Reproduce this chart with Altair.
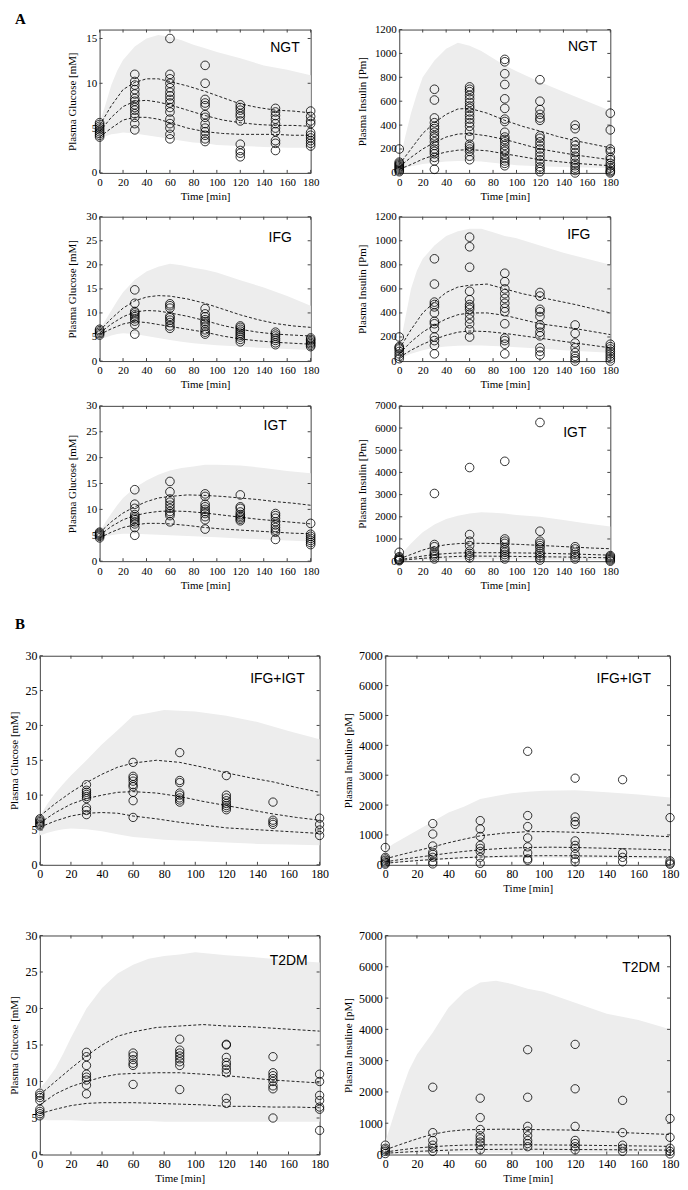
import altair as alt
import pandas as pd

# ---------------- time grids ----------------
BAND_T = [0, 5, 10, 15, 20, 30, 40, 50, 60, 70, 80, 90, 100, 120, 140, 160, 180]
LINE_T = [0, 10, 20, 30, 40, 50, 60, 75, 90, 105, 120, 135, 150, 165, 180]
OBS_T = [0, 30, 60, 90, 120, 150, 180]
X_TICKS = [0, 20, 40, 60, 80, 100, 120, 140, 160, 180]

# ---------------- A: NGT glucose ----------------
NGT_G_LO = [4.0, 4.1, 4.3, 4.4, 4.5, 4.4, 4.2, 4.0, 3.8, 3.6, 3.4, 3.3, 3.1, 3.0, 2.9, 2.8, 2.8]
NGT_G_HI = [5.6, 7.6, 9.8, 11.4, 12.6, 14.1, 15.0, 15.4, 15.2, 14.8, 14.3, 13.9, 13.5, 12.8, 12.0, 11.5, 10.9]
NGT_G_L1 = [5.3, 7.5, 9.3, 10.1, 10.5, 10.5, 10.2, 9.7, 9.1, 8.4, 7.7, 7.3, 7.0, 6.9, 6.7]
NGT_G_L2 = [4.6, 6.2, 7.4, 8.0, 8.1, 7.9, 7.6, 7.0, 6.4, 5.9, 5.6, 5.4, 5.3, 5.3, 5.2]
NGT_G_L3 = [4.0, 5.0, 5.9, 6.2, 6.2, 6.0, 5.6, 5.0, 4.6, 4.4, 4.3, 4.3, 4.3, 4.2, 4.2]
NGT_G_OBS = [
    [4.0, 4.2, 4.4, 4.6, 4.8, 5.0, 5.2, 5.4, 5.6],
    [4.8, 5.5, 6.2, 6.6, 7.0, 7.3, 7.6, 8.0, 8.3, 8.8, 9.3, 9.8, 10.2, 11.0],
    [3.8, 4.3, 5.0, 5.5, 6.0, 6.8, 7.3, 7.8, 8.2, 8.6, 9.0, 9.5, 10.0, 10.5, 11.0, 15.0],
    [3.5, 3.8, 4.2, 4.6, 5.0, 5.5, 6.2, 6.5, 7.5, 7.8, 8.2, 10.0, 12.0],
    [1.8, 2.2, 2.5, 3.2, 5.8, 6.3, 6.6, 7.0, 7.3, 7.6],
    [2.5, 3.3, 3.6, 4.6, 5.0, 5.5, 6.0, 6.4, 6.8, 7.2],
    [3.0, 3.3, 3.6, 3.9, 4.2, 4.5, 5.5, 5.8, 6.3, 6.9],
]

# ---------------- A: NGT insulin ----------------
NGT_I_LO = [30, 40, 55, 65, 75, 85, 95, 100, 100, 95, 85, 75, 65, 55, 50, 45, 40]
NGT_I_HI = [80, 300, 500, 660, 800, 940, 1040, 1090, 1065, 1020, 960, 900, 850, 760, 680, 600, 520]
NGT_I_L1 = [70, 200, 330, 420, 490, 535, 540, 500, 440, 390, 350, 305, 270, 240, 210]
NGT_I_L2 = [50, 130, 200, 255, 300, 325, 330, 310, 280, 240, 200, 175, 150, 130, 110]
NGT_I_L3 = [30, 70, 115, 150, 175, 190, 195, 185, 160, 135, 110, 95, 80, 70, 60]
NGT_I_OBS = [
    [10, 20, 30, 40, 50, 60, 70, 80, 90, 200],
    [30, 100, 130, 160, 180, 200, 230, 260, 290, 310, 340, 370, 390, 420, 460, 610, 700],
    [110, 140, 180, 200, 220, 240, 300, 350, 390, 420, 450, 480, 510, 540, 560, 590, 620, 650, 680, 700, 720],
    [60, 80, 100, 120, 150, 180, 200, 230, 260, 280, 300, 340, 430, 450, 540, 620, 740, 830, 930, 950],
    [10, 30, 50, 80, 110, 140, 170, 200, 230, 260, 290, 310, 440, 460, 490, 530, 600, 780],
    [0, 20, 40, 60, 80, 110, 140, 170, 200, 230, 260, 370, 400],
    [0, 10, 20, 40, 60, 80, 110, 130, 180, 200, 360, 500],
]

# ---------------- A: IFG glucose ----------------
IFG_G_LO = [4.5, 4.9, 5.3, 5.6, 5.8, 5.6, 5.2, 4.8, 4.4, 4.0, 3.7, 3.5, 3.3, 3.0, 2.7, 2.5, 2.3]
IFG_G_HI = [6.5, 8.5, 10.5, 12.5, 14.3, 16.9, 18.6, 19.6, 20.2, 19.9, 19.4, 19.0, 18.4, 16.8, 15.3, 13.5, 11.5]
IFG_G_L1 = [6.3, 8.8, 11.0, 12.5, 13.3, 13.6, 13.5, 12.9, 12.0, 10.8, 9.6, 8.6, 7.8, 7.3, 7.0]
IFG_G_L2 = [5.8, 7.7, 9.2, 10.2, 10.5, 10.4, 10.0, 9.3, 8.4, 7.4, 6.6, 6.0, 5.6, 5.4, 5.2]
IFG_G_L3 = [5.5, 6.7, 7.7, 8.2, 8.0, 7.6, 7.2, 6.6, 6.0, 5.2, 4.6, 4.2, 3.9, 3.7, 3.5]
IFG_G_OBS = [
    [5.4, 5.7, 6.0, 6.3, 6.6],
    [5.6, 7.6, 8.3, 8.8, 9.2, 9.6, 10.0, 10.3, 12.0, 14.8],
    [6.8, 7.3, 8.0, 8.5, 9.0, 9.3, 11.0, 11.5, 11.9],
    [5.6, 6.0, 6.5, 7.2, 7.8, 8.2, 8.6, 9.2, 9.8, 10.9],
    [4.0, 4.5, 5.0, 5.4, 5.8, 6.2, 6.6, 7.0, 7.3],
    [3.4, 3.8, 4.3, 4.7, 5.2, 5.6, 6.0],
    [3.0, 3.3, 3.6, 3.9, 4.2, 4.5, 4.8],
]

# ---------------- A: IFG insulin ----------------
IFG_I_LO = [20, 40, 60, 75, 90, 110, 120, 128, 130, 130, 125, 120, 115, 105, 90, 80, 70]
IFG_I_HI = [100, 350, 600, 750, 850, 960, 1040, 1080, 1100, 1100, 1070, 1040, 1020, 960, 900, 850, 800]
IFG_I_L1 = [100, 260, 400, 490, 570, 615, 630, 640, 600, 560, 530, 500, 470, 435, 400]
IFG_I_L2 = [60, 160, 240, 300, 350, 385, 400, 400, 380, 345, 310, 290, 270, 245, 220]
IFG_I_L3 = [30, 90, 140, 180, 215, 240, 250, 245, 230, 210, 190, 170, 150, 130, 110]
IFG_I_OBS = [
    [20, 40, 60, 80, 100, 110, 120, 200],
    [60, 130, 170, 200, 270, 310, 330, 400, 450, 470, 490, 640, 850],
    [200, 260, 310, 350, 390, 430, 450, 470, 510, 580, 780, 950, 1030],
    [60, 140, 170, 190, 310, 410, 440, 480, 520, 560, 600, 660, 730],
    [50, 80, 110, 210, 240, 280, 300, 370, 410, 430, 540, 570],
    [0, 20, 40, 70, 110, 150, 230, 300],
    [0, 20, 40, 60, 80, 100, 120, 140],
]

# ---------------- A: IGT glucose ----------------
IGT_G_LO = [4.5, 4.8, 5.0, 5.2, 5.3, 5.3, 5.2, 5.1, 5.0, 4.9, 4.8, 4.7, 4.6, 4.4, 4.2, 4.0, 3.8]
IGT_G_HI = [5.6, 7.5, 9.2, 10.8, 12.2, 14.2, 15.6, 16.7, 17.5, 18.0, 18.3, 18.6, 18.6, 18.5, 18.0, 17.4, 17.0]
IGT_G_L1 = [5.5, 7.6, 9.3, 10.5, 11.5, 12.2, 12.5, 12.8, 12.7, 12.5, 12.2, 11.9, 11.5, 11.2, 10.8]
IGT_G_L2 = [5.0, 6.7, 8.0, 8.8, 9.3, 9.6, 9.7, 9.6, 9.3, 8.9, 8.5, 8.1, 7.8, 7.5, 7.2]
IGT_G_L3 = [4.5, 5.6, 6.5, 7.0, 7.3, 7.3, 7.2, 6.9, 6.5, 6.2, 6.0, 5.8, 5.6, 5.4, 5.3]
IGT_G_OBS = [
    [4.5, 4.8, 5.0, 5.2, 5.4, 5.6],
    [5.0, 6.5, 7.2, 7.6, 8.0, 8.3, 8.6, 9.0, 10.2, 11.0, 13.8],
    [7.6, 8.8, 9.2, 9.6, 10.2, 10.8, 11.4, 12.0, 13.4, 15.4],
    [6.2, 8.0, 8.6, 9.2, 9.6, 10.0, 10.5, 11.0, 12.5, 13.0],
    [7.8, 8.1, 8.4, 8.7, 9.0, 9.5, 10.2, 10.5, 12.8],
    [4.2, 5.6, 6.0, 6.5, 7.0, 7.6, 8.3, 8.8, 9.2],
    [3.2, 3.6, 4.0, 4.4, 4.8, 5.2, 7.3],
]

# ---------------- A: IGT insulin ----------------
IGT_I_LO = [10, 20, 30, 40, 50, 60, 70, 80, 80, 80, 80, 75, 70, 65, 60, 55, 50]
IGT_I_HI = [200, 500, 800, 1050, 1300, 1650, 1900, 2050, 2150, 2200, 2180, 2150, 2080, 2000, 1850, 1700, 1560]
IGT_I_L1 = [100, 300, 500, 650, 740, 790, 810, 800, 780, 750, 710, 670, 630, 590, 560]
IGT_I_L2 = [60, 150, 230, 300, 340, 370, 380, 380, 380, 370, 360, 340, 320, 295, 270]
IGT_I_L3 = [30, 80, 130, 160, 190, 215, 230, 225, 220, 210, 200, 190, 180, 165, 150]
IGT_I_OBS = [
    [20, 50, 80, 100, 150, 200, 400],
    [100, 200, 280, 350, 450, 650, 750, 3050],
    [150, 250, 350, 450, 700, 900, 1200, 4220],
    [100, 200, 300, 400, 500, 600, 800, 900, 1000, 4500],
    [50, 150, 250, 350, 450, 600, 700, 800, 900, 1350, 6250],
    [100, 200, 300, 400, 550, 650],
    [0, 50, 100, 150, 200, 250],
]

# ---------------- B: IFG+IGT glucose ----------------
BOTH_G_LO = [4.2, 4.6, 4.9, 5.1, 5.2, 5.1, 4.8, 4.4, 4.0, 3.8, 3.6, 3.5, 3.4, 3.2, 3.0, 2.9, 2.8]
BOTH_G_HI = [7.0, 8.8, 10.3, 11.6, 12.8, 15.0, 17.3, 19.3, 21.4, 21.8, 22.2, 22.1, 22.0, 21.4, 20.5, 19.2, 18.0]
BOTH_G_L1 = [7.0, 8.8, 10.4, 11.8, 13.0, 14.0, 14.6, 15.0, 14.7, 14.0, 13.2, 12.5, 11.9, 11.1, 10.4]
BOTH_G_L2 = [6.0, 7.5, 8.7, 9.5, 10.0, 10.4, 10.5, 10.3, 9.8, 9.1, 8.5, 7.9, 7.3, 6.8, 6.4]
BOTH_G_L3 = [5.4, 6.3, 7.0, 7.4, 7.5, 7.4, 7.0, 6.6, 6.1, 5.7, 5.3, 5.1, 4.9, 4.7, 4.5]
BOTH_G_OBS = [
    [5.6, 5.8, 6.0, 6.2, 6.4, 6.6],
    [7.2, 7.8, 8.2, 9.5, 9.8, 10.1, 10.4, 10.7, 11.5],
    [6.8, 9.2, 10.4, 11.2, 11.5, 12.0, 12.4, 12.7, 14.7],
    [9.0, 9.3, 9.6, 10.0, 10.3, 11.8, 12.1, 16.1],
    [7.9, 8.2, 8.5, 8.8, 9.2, 9.6, 10.0, 12.8],
    [5.8, 6.1, 6.4, 9.0],
    [4.2, 5.0, 5.8, 6.7],
]

# ---------------- B: IFG+IGT insulin ----------------
BOTH_I_LO = [50, 60, 80, 100, 120, 150, 180, 200, 220, 230, 240, 240, 240, 230, 220, 210, 200]
BOTH_I_HI = [500, 700, 850, 1000, 1150, 1450, 1750, 1950, 2200, 2300, 2400, 2450, 2480, 2500, 2430, 2350, 2250]
BOTH_I_L1 = [200, 340, 470, 600, 740, 860, 970, 1060, 1110, 1110, 1090, 1060, 1020, 980, 940]
BOTH_I_L2 = [100, 180, 250, 320, 390, 450, 500, 550, 580, 590, 580, 560, 540, 520, 500]
BOTH_I_L3 = [50, 100, 140, 180, 210, 240, 260, 285, 300, 305, 300, 290, 280, 270, 260]
BOTH_I_OBS = [
    [20, 60, 100, 150, 200, 250, 580],
    [30, 100, 250, 350, 420, 630, 1030, 1380],
    [50, 250, 450, 550, 650, 950, 1200, 1480],
    [150, 200, 400, 600, 900, 1280, 1650, 3800],
    [100, 200, 350, 550, 650, 800, 1350, 1450, 1600, 2900],
    [100, 250, 400, 2850],
    [20, 60, 130, 1580],
]

# ---------------- B: T2DM glucose ----------------
T2DM_G_LO = [4.8, 4.7, 4.7, 4.7, 4.7, 4.6, 4.6, 4.6, 4.6, 4.6, 4.5, 4.5, 4.5, 4.5, 4.5, 4.5, 4.5]
T2DM_G_HI = [9.0, 10.3, 11.8, 13.8, 16.0, 20.0, 22.8, 24.8, 26.0, 26.8, 27.2, 27.4, 27.7, 27.3, 27.0, 26.6, 26.3]
T2DM_G_L1 = [8.2, 10.0, 11.8, 13.5, 15.0, 16.2, 16.8, 17.4, 17.6, 17.8, 17.6, 17.5, 17.3, 17.1, 16.9]
T2DM_G_L2 = [6.8, 8.3, 9.3, 10.0, 10.6, 11.0, 11.1, 11.2, 11.2, 11.0, 10.8, 10.5, 10.2, 10.0, 9.8]
T2DM_G_L3 = [5.6, 6.2, 6.7, 7.0, 7.1, 7.1, 7.1, 7.0, 6.9, 6.8, 6.6, 6.6, 6.5, 6.5, 6.4]
T2DM_G_OBS = [
    [5.3, 5.6, 5.9, 6.2, 7.4, 7.8, 8.1, 8.4],
    [8.3, 9.5, 10.2, 10.6, 11.0, 12.2, 13.4, 14.0],
    [9.6, 12.2, 12.5, 13.0, 13.5, 13.9],
    [8.9, 12.2, 12.7, 13.1, 13.5, 13.9, 14.3, 15.8],
    [7.0, 7.7, 11.2, 11.7, 12.2, 12.6, 13.3, 15.0, 15.1],
    [5.0, 9.0, 9.4, 10.0, 10.4, 10.8, 11.2, 13.4],
    [3.3, 6.2, 6.5, 7.4, 8.1, 10.0, 11.0],
]

# ---------------- B: T2DM insulin ----------------
T2DM_I_LO = [10, 20, 30, 40, 50, 60, 60, 60, 60, 60, 60, 60, 60, 60, 60, 60, 60]
T2DM_I_HI = [400, 1200, 2000, 2700, 3200, 3900, 4700, 5200, 5500, 5550, 5450, 5300, 5200, 4850, 4500, 4300, 4000]
T2DM_I_L1 = [150, 330, 500, 650, 740, 790, 800, 810, 800, 790, 780, 740, 700, 670, 640]
T2DM_I_L2 = [80, 150, 210, 250, 280, 300, 310, 310, 310, 305, 300, 290, 280, 270, 260]
T2DM_I_L3 = [40, 70, 100, 120, 140, 155, 160, 165, 170, 165, 160, 155, 150, 145, 140]
T2DM_I_OBS = [
    [30, 100, 150, 200, 300],
    [100, 200, 300, 450, 700, 2150],
    [150, 300, 400, 500, 600, 800, 1180, 1800],
    [250, 350, 450, 600, 750, 900, 1830, 3350],
    [150, 250, 350, 450, 900, 2100, 3520],
    [100, 200, 300, 700, 1730],
    [20, 100, 200, 550, 1150],
]

SERIF = "Liberation Serif"
SANS = "Liberation Sans"
FRAME = "#444444"
BAND = "#ededed"


def panel(lo, hi, l1, l2, l3, obs, ymax, ystep, ytitle, label, w, h,
          lab_dx, lab_dy, lab_fs, title_pad, xtitle=True, csize=75, letter=None):
    xs = alt.Scale(domain=[0, 180], nice=False, zero=False)
    ys = alt.Scale(domain=[0, ymax], nice=False, zero=False)
    yticks = list(range(0, ymax + 1, ystep))
    xaxis = alt.Axis(values=X_TICKS, title="Time [min]" if xtitle else "",
                     labelFontSize=lab_fs, titleFontSize=11, labelPadding=4,
                     titlePadding=3, labelFlush=False, labelOverlap=False, format="d")
    yaxis = alt.Axis(values=yticks, title=ytitle, labelFontSize=lab_fs,
                     titleFontSize=11, labelPadding=3, titlePadding=title_pad,
                     labelFlush=False, labelOverlap=False, format="d")
    X = alt.X("t:Q", scale=xs, axis=xaxis)
    Y = alt.Y("v:Q", scale=ys, axis=yaxis)

    band_df = pd.DataFrame({"t": BAND_T, "lo": lo, "hi": hi})
    band = alt.Chart(band_df).mark_area(color=BAND).encode(
        x=X, y=alt.Y("lo:Q", scale=ys, axis=yaxis), y2="hi:Q")

    rows = []
    for k, vals in enumerate([l1, l2, l3]):
        for t, v in zip(LINE_T, vals):
            rows.append({"t": t, "v": v, "k": k})
    lines = alt.Chart(pd.DataFrame(rows)).mark_line(
        color="#222222", strokeWidth=1, strokeDash=[3, 2]).encode(
        x=X, y=Y, detail="k:N")

    orows = []
    for t, vs in zip(OBS_T, obs):
        for v in vs:
            orows.append({"t": t, "v": v})
    pts = alt.Chart(pd.DataFrame(orows)).mark_point(
        shape="circle", filled=False, size=csize, color="black",
        strokeWidth=0.8, opacity=1).encode(x=X, y=Y)

    xt = pd.DataFrame({"t": X_TICKS})
    yt = pd.DataFrame({"v": yticks})
    tk = dict(color=FRAME, strokeWidth=1)
    t_bot = alt.Chart(xt).mark_rule(**tk).encode(x=X, y=alt.value(h), y2=alt.value(h - 3))
    t_top = alt.Chart(xt).mark_rule(**tk).encode(x=X, y=alt.value(0), y2=alt.value(3))
    t_lft = alt.Chart(yt).mark_rule(**tk).encode(y=Y, x=alt.value(0), x2=alt.value(3))
    t_rgt = alt.Chart(yt).mark_rule(**tk).encode(y=Y, x=alt.value(w - 3), x2=alt.value(w))

    lab = alt.Chart(pd.DataFrame({"s": [label]})).mark_text(
        align="right", baseline="alphabetic", font=SANS, fontSize=14,
        color="black").encode(x=alt.value(w - lab_dx), y=alt.value(lab_dy), text="s:N")

    layers = [band, lines, pts, t_bot, t_top, t_lft, t_rgt, lab]
    if letter is not None:
        txt, lx, ly = letter
        layers.append(alt.Chart(pd.DataFrame({"s": [txt]})).mark_text(
            align="left", baseline="top", font=SERIF, fontSize=15,
            fontWeight="bold", color="black").encode(
            x=alt.value(lx), y=alt.value(ly), text="s:N"))
    return alt.layer(*layers).properties(
        width=w, height=h, view=alt.ViewBackground(stroke=FRAME, strokeWidth=1))


def spacer(w, h):
    return alt.Chart(pd.DataFrame({"z": [0]})).mark_point(
        opacity=0, size=0, strokeWidth=0).encode(
        x=alt.value(0), y=alt.value(0)).properties(
        width=w, height=h, view=alt.ViewBackground(stroke="transparent"))


def row(h, left, pl, mid, pr):
    return [spacer(left, h), pl, spacer(mid, h), pr]


def gap(h):
    return [spacer(1, h), spacer(1, h), spacer(1, h), spacer(1, h)]


AW, BWL, BWR = 212, 281, 286
GL = "Plasma Glucose [mM]"
IP = "Plasma Insulin [Pm]"
IB = "Plasma Insuline [pM]"

a1 = panel(NGT_G_LO, NGT_G_HI, NGT_G_L1, NGT_G_L2, NGT_G_L3, NGT_G_OBS, 16, 5, GL, "NGT",
           AW, 144, 11, 23, 11, 8, letter=("A", -85, -18))
a2 = panel(NGT_I_LO, NGT_I_HI, NGT_I_L1, NGT_I_L2, NGT_I_L3, NGT_I_OBS, 1200, 200, IP, "NGT",
           AW, 144, 13, 22, 11, 7)
a3 = panel(IFG_G_LO, IFG_G_HI, IFG_G_L1, IFG_G_L2, IFG_G_L3, IFG_G_OBS, 30, 5, GL, "IFG",
           AW, 145, 19, 25, 11, 8)
a4 = panel(IFG_I_LO, IFG_I_HI, IFG_I_L1, IFG_I_L2, IFG_I_L3, IFG_I_OBS, 1200, 200, IP, "IFG",
           AW, 145, 20, 22, 11, 7)
a5 = panel(IGT_G_LO, IGT_G_HI, IGT_G_L1, IGT_G_L2, IGT_G_L3, IGT_G_OBS, 30, 5, GL, "IGT",
           AW, 156, 24, 24, 11, 8)
a6 = panel(IGT_I_LO, IGT_I_HI, IGT_I_L1, IGT_I_L2, IGT_I_L3, IGT_I_OBS, 7000, 1000, IP, "IGT",
           AW, 156, 24, 31, 11, 7)
b1 = panel(BOTH_G_LO, BOTH_G_HI, BOTH_G_L1, BOTH_G_L2, BOTH_G_L3, BOTH_G_OBS, 30, 5, GL, "IFG+IGT",
           BWL, 210, 15, 27, 12, 5, xtitle=False, csize=70, letter=("B", -25, -39))
b2 = panel(BOTH_I_LO, BOTH_I_HI, BOTH_I_L1, BOTH_I_L2, BOTH_I_L3, BOTH_I_OBS, 7000, 1000, IB, "IFG+IGT",
           BWR, 210, 19, 27, 12, 5, csize=70)
b3 = panel(T2DM_G_LO, T2DM_G_HI, T2DM_G_L1, T2DM_G_L2, T2DM_G_L3, T2DM_G_OBS, 30, 5, GL, "T2DM",
           BWL, 220, 12, 30, 12, 5, csize=70)
b4 = panel(T2DM_I_LO, T2DM_I_HI, T2DM_I_L1, T2DM_I_L2, T2DM_I_L3, T2DM_I_OBS, 7000, 1000, IB, "T2DM",
           BWR, 220, 10, 37, 12, 5, csize=70)

block_a = alt.concat(
    *(row(144, 91, a1, 89, a2) + gap(44) + row(145, 91, a3, 89, a4)
      + gap(45) + row(156, 91, a5, 89, a6)),
    columns=4, spacing=0, bounds="flush",
)
block_b = alt.concat(
    *(row(210, 31, b1, 66, b2) + gap(71) + row(220, 31, b3, 66, b4)),
    columns=4, spacing=0, bounds="flush",
)

chart = alt.vconcat(block_a, block_b, spacing=25).properties(
    padding=0, background="white"
).configure_view(
    stroke="transparent"
).configure_axis(
    labelFont=SERIF, titleFont=SERIF, labelColor="black", titleColor="black",
    titleFontWeight="normal", grid=False, domain=False, ticks=False, tickSize=0
)

chart.save("out.html", embed_options={"renderer": "svg", "actions": False})
